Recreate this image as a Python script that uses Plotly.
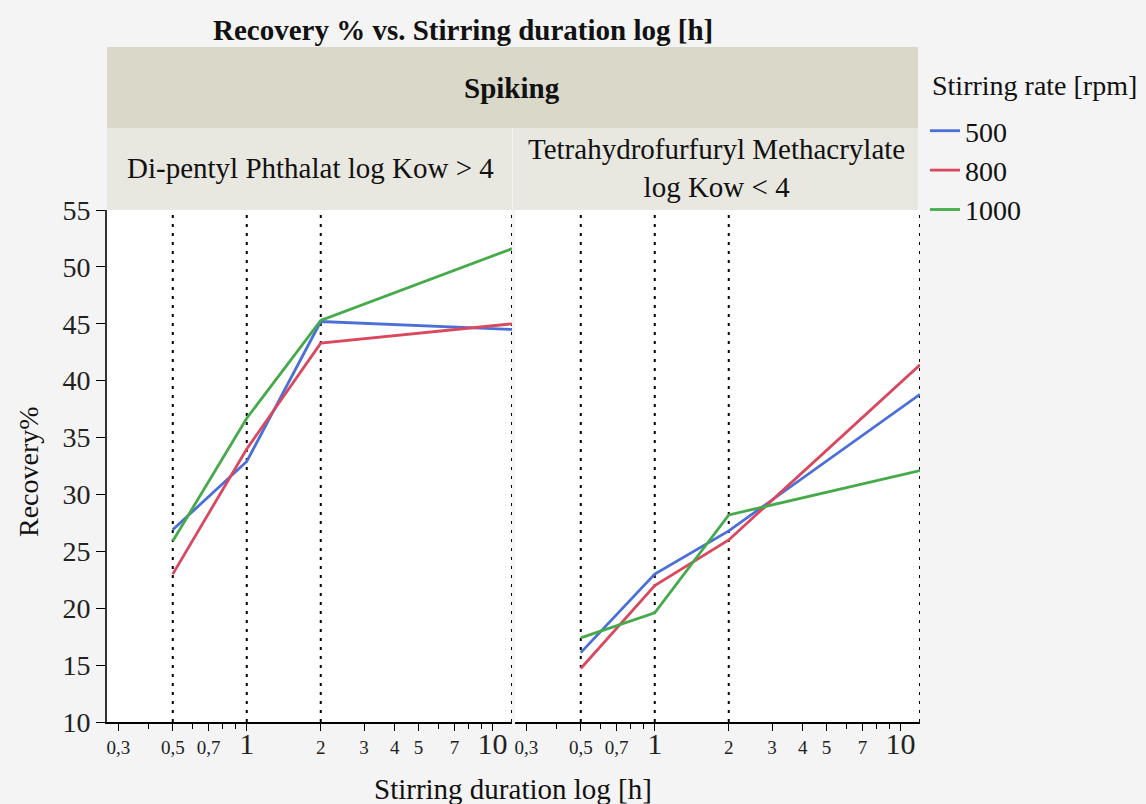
import math
import plotly.graph_objects as go
from plotly.subplots import make_subplots

# ---- data ----
durations = [0.5, 1, 2, 12]
rates = ["500", "800", "1000"]
panels = ["Di-pentyl Phthalat log Kow > 4",
          "Tetrahydrofurfuryl Methacrylate<br>log Kow < 4"]
recovery_dipentyl = {
    "500": [26.9, 32.9, 45.2, 44.5],
    "800": [23.0, 34.0, 43.3, 45.0],
    "1000": [25.9, 36.7, 45.3, 51.6],
}
recovery_thfma = {
    "500": [16.1, 23.0, 26.8, 38.8],
    "800": [14.7, 22.0, 26.0, 41.4],
    "1000": [17.4, 19.6, 28.2, 32.1],
}
major_ticks = [0.3, 0.5, 0.7, 1, 2, 3, 4, 5, 7, 10]
major_text = ["0,3", "0,5", "0,7", "<span style='font-size:30px'>1</span>",
              "2", "3", "4", "5", "7", "<span style='font-size:30px'>10</span>"]
minor_ticks = [0.4, 0.6, 0.8, 0.9, 6, 8, 9]
y_ticks = [10, 15, 20, 25, 30, 35, 40, 45, 50, 55]

colors = {"500": "#4a6fd8", "800": "#d9485e", "1000": "#45aa4a"}
FONT = "Liberation Serif"

W, H = 1146, 804
L, R, T, B = 107, 226, 210, 82
pw = W - L - R
ph = H - T - B

fig = make_subplots(rows=1, cols=2, shared_yaxes=True, horizontal_spacing=0)

for ci, data in enumerate([recovery_dipentyl, recovery_thfma], start=1):
    for r in rates:
        fig.add_trace(go.Scatter(
            x=durations, y=data[r], mode="lines", name=r,
            legendgroup=r, showlegend=(ci == 1),
            line=dict(color=colors[r], width=2.8),
            hoverinfo="skip"), row=1, col=ci)
    for d in durations:
        fig.add_vline(x=d, line=dict(color="black", width=2, dash="3px,6px"),
                      layer="below", row=1, col=ci)

xr = [math.log10(0.27), math.log10(12)]
xaxis_common = dict(type="log", range=xr, tickvals=major_ticks, ticktext=major_text,
                    ticks="outside", ticklen=7, tickwidth=1.3, tickcolor="black",
                    showline=True, linecolor="black", linewidth=1.5,
                    showgrid=False, zeroline=False,
                    tickfont=dict(family=FONT, size=19, color="#222"),
                    minor=dict(tickvals=minor_ticks, ticks="outside", ticklen=5,
                               tickcolor="black", showgrid=False))
gap = 3 / pw
fig.update_layout(xaxis=dict(domain=[0, 405 / pw], **xaxis_common),
                  xaxis2=dict(domain=[405 / pw + gap, 1], **xaxis_common))
fig.update_yaxes(range=[10, 55], tickvals=y_ticks, showgrid=False, zeroline=False)
fig.update_yaxes(row=1, col=1, ticks="outside", ticklen=9, tickcolor="black",
                 showline=True, linecolor="#333", linewidth=2,
                 tickfont=dict(family=FONT, size=28, color="#222"))
fig.update_yaxes(row=1, col=2, showticklabels=False, showline=False, ticks="")

def px_y(p):
    return (H - B - p) / ph

def px_x(p):
    return (p - L) / pw

shapes = [
    dict(type="rect", xref="paper", yref="paper", x0=0, x1=px_x(918),
         y0=px_y(128), y1=px_y(47), fillcolor="#dad8c9", line=dict(width=0), layer="below"),
    dict(type="rect", xref="paper", yref="paper", x0=0, x1=px_x(512),
         y0=1, y1=px_y(128), fillcolor="#e9e8e0", line=dict(width=0), layer="below"),
    dict(type="rect", xref="paper", yref="paper", x0=px_x(513), x1=px_x(918),
         y0=1, y1=px_y(128), fillcolor="#e9e8e0", line=dict(width=0), layer="below"),
]
for s in shapes:
    fig.add_shape(**s)

ann = [
    dict(text="<b>Recovery % vs. Stirring duration log [h]</b>", x=px_x(463), y=px_y(30),
         font=dict(size=29)),
    dict(text="<b>Spiking</b>", x=px_x(512), y=px_y(88), font=dict(size=29)),
    dict(text=panels[0], x=px_x(310), y=px_y(168), font=dict(size=29)),
    dict(text=panels[1], x=px_x(716), y=px_y(168), font=dict(size=29)),
    dict(text="Recovery%", x=px_x(28), y=px_y(472), textangle=-90, font=dict(size=28)),
    dict(text="Stirring duration log [h]", x=px_x(513), y=px_y(789), font=dict(size=29)),
]
for a in ann:
    a["font"].update(family=FONT, color="#111")
    fig.add_annotation(xref="paper", yref="paper", showarrow=False,
                       xanchor="center", yanchor="middle", **a)
# legend title
fig.add_annotation(xref="paper", yref="paper", showarrow=False, xanchor="left",
                   yanchor="middle", x=px_x(930), y=px_y(85),
                   text="Stirring rate [rpm]", font=dict(family=FONT, size=28, color="#111"))

fig.update_layout(
    width=W, height=H,
    margin=dict(l=L, r=R, t=T, b=B),
    paper_bgcolor="#f4f4f4", plot_bgcolor="white",
    font=dict(family=FONT, color="#111"),
    legend=dict(font=dict(family=FONT, size=28), x=px_x(925), xanchor="left",
                y=px_y(106), yanchor="top", bgcolor="rgba(0,0,0,0)",
                tracegroupgap=0, itemwidth=30),
)

fig.write_html("out.html")
